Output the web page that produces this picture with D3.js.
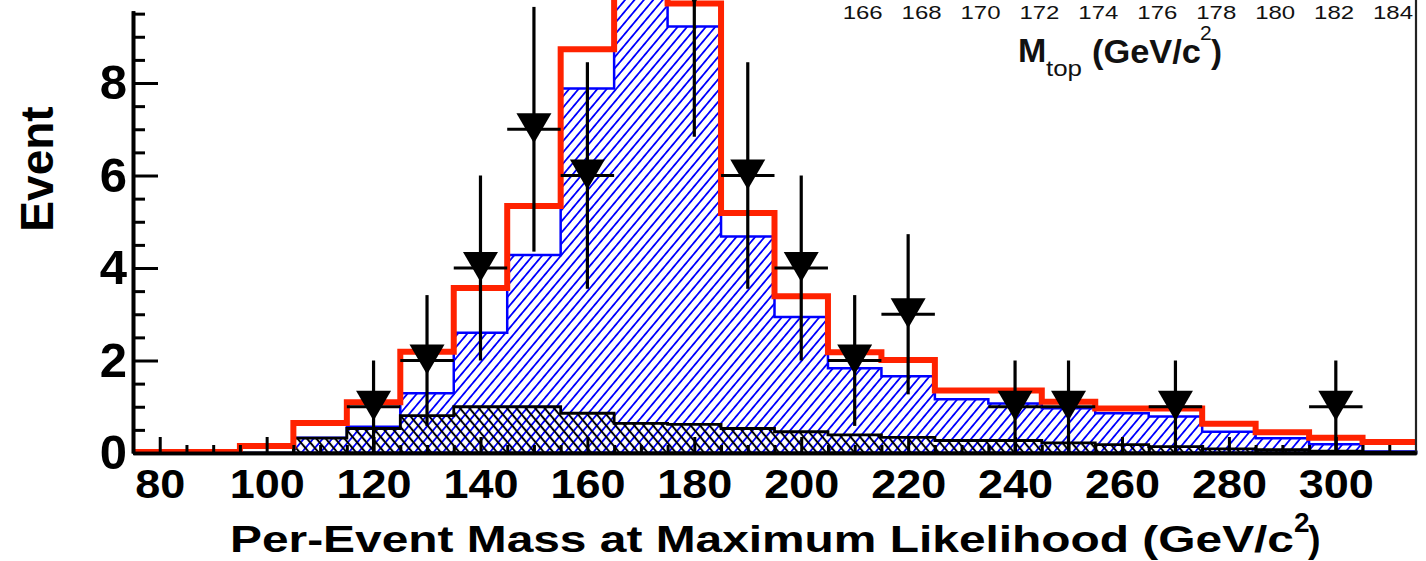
<!DOCTYPE html>
<html>
<head>
<meta charset="utf-8">
<script src="https://cdn.jsdelivr.net/npm/d3@7"></script>
<style>
  html, body { margin: 0; padding: 0; background: #fff; }
  svg { display: block; font-family: 'Liberation Sans', Arial, Helvetica, sans-serif; }
</style>
</head>
<body>
<div id="chart"></div>
<script>
// 10 GeV/c^2 bins, given by their centres
const binCenters    = [80, 90, 100, 110, 120, 130, 140, 150, 160, 170, 180, 190, 200, 210, 220, 230, 240, 250, 260, 270, 280, 290, 300, 310];
const totalExpected = [0.02, 0.02, 0.15, 0.65, 1.10, 2.19, 3.57, 5.34, 8.73, 11.2, 9.72, 5.19, 3.39, 2.18, 2.01, 1.35, 1.35, 1.11, 0.96, 0.96, 0.63, 0.45, 0.33, 0.24];
const signalPlusBkg = [0, 0, 0, 0.33, 0.57, 1.29, 2.60, 4.28, 7.88, 10.5, 9.22, 4.68, 2.94, 1.83, 1.66, 1.16, 1.07, 0.97, 0.86, 0.79, 0.46, 0.32, 0.19, 0.03];
const background    = [0, 0, 0, 0.32, 0.53, 0.81, 1.00, 1.00, 0.86, 0.64, 0.62, 0.53, 0.46, 0.39, 0.34, 0.27, 0.27, 0.22, 0.18, 0.14, 0.09, 0.07, 0.04, 0.02];

// observed events
const dataMass   = [120, 130, 140, 150, 160, 180, 190, 200, 210, 220, 240, 250, 270, 300];
const dataCounts = [1, 2, 4, 7, 6, 10, 6, 4, 2, 3, 1, 1, 1, 1];

const xMajorTicks = [80, 100, 120, 140, 160, 180, 200, 220, 240, 260, 280, 300];
const yMajorTicks = [0, 2, 4, 6, 8];
const yMinorTicks = [0.5, 1, 1.5, 2.5, 3, 3.5, 4.5, 5, 5.5, 6.5, 7, 7.5, 8.5, 9, 9.5];
const insetTicks  = [166, 168, 170, 172, 174, 176, 178, 180, 182, 184];

const binWidth = 10;
const W = 1426, H = 561;

const svg = d3.select('#chart').append('svg')
  .attr('width', W)
  .attr('height', H);

const x = d3.scaleLinear().domain([75, 315]).range([133, 1416]);
const y = d3.scaleLinear().domain([0, 9.795]).range([453, 0]);

// hatch patterns (ROOT 3004 / 3005 look)
const defs = svg.append('defs');
function hatch(id, angle, color, width) {
  defs.append('pattern')
    .attr('id', id)
    .attr('patternUnits', 'userSpaceOnUse')
    .attr('width', 7.2)
    .attr('height', 20)
    .attr('patternTransform', `rotate(${angle})`)
    .append('line')
    .attr('x1', 3.6).attr('y1', -1)
    .attr('x2', 3.6).attr('y2', 21)
    .attr('stroke', color)
    .attr('stroke-width', width);
}
hatch('hatch-blue', 40, '#0000ff', 1.8);
hatch('hatch-black', -40, '#000', 2);

function steps(values) {
  const pts = binCenters.map((c, i) => ({ x: c - binWidth / 2, v: values[i] }));
  pts.push({ x: binCenters[binCenters.length - 1] + binWidth / 2, v: values[values.length - 1] });
  return pts;
}

const area = d3.area()
  .x(d => x(d.x))
  .y0(y(0))
  .y1(d => y(d.v))
  .curve(d3.curveStepAfter);

const line = d3.line()
  .x(d => x(d.x))
  .y(d => y(d.v))
  .curve(d3.curveStepAfter);

// signal + background
svg.append('path')
  .datum(steps(signalPlusBkg))
  .attr('d', area)
  .attr('fill', 'url(#hatch-blue)')
  .attr('stroke', '#0000ff')
  .attr('stroke-width', 2.5);

// background only
svg.append('path')
  .datum(steps(background))
  .attr('d', area)
  .attr('fill', 'url(#hatch-black)')
  .attr('stroke', '#000')
  .attr('stroke-width', 2.8);

// total expectation
svg.append('path')
  .datum(steps(totalExpected))
  .attr('d', line)
  .attr('fill', 'none')
  .attr('stroke', '#ff2200')
  .attr('stroke-width', 6);

// frame right edge
svg.append('line')
  .attr('x1', x(315)).attr('x2', x(315))
  .attr('y1', 0).attr('y2', y(0))
  .attr('stroke', '#222')
  .attr('stroke-width', 2.2);

// x axis
const xMinorTicks = d3.range(85, 315, 5).filter(v => v % 20 !== 0);
const gxMinor = svg.append('g')
  .attr('transform', `translate(0,${y(0)})`)
  .call(d3.axisBottom(x).tickValues(xMinorTicks).tickSizeInner(-8).tickSizeOuter(0).tickFormat(''));
const gx = svg.append('g')
  .attr('transform', `translate(0,${y(0)})`)
  .call(d3.axisBottom(x).tickValues(xMajorTicks).tickSizeInner(-16).tickSizeOuter(0).tickPadding(17));
gx.selectAll('text')
  .attr('fill', '#000')
  .attr('font-size', 40)
  .attr('font-weight', 'bold')
  .attr('font-family', "'Liberation Sans', Arial, sans-serif")
  .attr('textLength', d => String(d).length * 25)
  .attr('lengthAdjust', 'spacingAndGlyphs');

// y axis
const yAxisTop = 9.56;
const yAxisScale = y.copy().domain([0, yAxisTop]).range([y(0), y(yAxisTop)]);
const gyMinor = svg.append('g')
  .attr('transform', `translate(${x(75)},0)`)
  .call(d3.axisLeft(yAxisScale).tickValues(yMinorTicks).tickSizeInner(-12).tickSizeOuter(0).tickFormat(''));
const gy = svg.append('g')
  .attr('transform', `translate(${x(75)},0)`)
  .call(d3.axisLeft(yAxisScale).tickValues(yMajorTicks).tickSizeInner(-25).tickSizeOuter(0).tickPadding(6));
gy.selectAll('text')
  .attr('fill', '#000')
  .attr('font-size', 49)
  .attr('font-weight', 'bold')
  .attr('font-family', "'Liberation Sans', Arial, sans-serif");

[gx, gxMinor, gy, gyMinor].forEach(g => {
  g.selectAll('.tick line').attr('stroke', '#000').attr('stroke-width', 3);
  g.select('.domain').attr('stroke', '#000').attr('stroke-width', 3.6);
});

// data points: error bars + inverted triangles
const pts = dataMass.map((m, i) => ({ m, n: dataCounts[i] }));
const gData = svg.append('g');
gData.selectAll('line.ey').data(pts).join('line')
  .attr('class', 'ey')
  .attr('x1', d => x(d.m)).attr('x2', d => x(d.m))
  .attr('y1', d => y(d.n - Math.sqrt(d.n)))
  .attr('y2', d => y(d.n + Math.sqrt(d.n)))
  .attr('stroke', '#000').attr('stroke-width', 3.2);
gData.selectAll('line.ex').data(pts).join('line')
  .attr('class', 'ex')
  .attr('x1', d => x(d.m - binWidth / 2)).attr('x2', d => x(d.m + binWidth / 2))
  .attr('y1', d => y(d.n)).attr('y2', d => y(d.n))
  .attr('stroke', '#000').attr('stroke-width', 3.2);
gData.selectAll('path.marker').data(pts).join('path')
  .attr('class', 'marker')
  .attr('transform', d => `translate(${x(d.m)},${y(d.n)})`)
  .attr('d', 'M-17.5,-16L17.5,-16L0,14Z')
  .attr('fill', '#000');

// axis titles
svg.append('text')
  .attr('transform', 'translate(53,169) rotate(-90)')
  .attr('text-anchor', 'middle')
  .attr('font-size', 46)
  .attr('font-weight', 'bold')
  .text('Event');

const xTitle = svg.append('g').attr('font-weight', 'bold');
xTitle.append('text')
  .attr('x', 230).attr('y', 552)
  .attr('font-size', 37.7)
  .attr('textLength', 1064)
  .attr('lengthAdjust', 'spacingAndGlyphs')
  .text('Per-Event Mass at Maximum Likelihood (GeV/c');
xTitle.append('text')
  .attr('x', 1294).attr('y', 532)
  .attr('font-size', 28)
  .text('2');
xTitle.append('text')
  .attr('x', 1308).attr('y', 552)
  .attr('font-size', 37.7)
  .text(')');

// inset axis labels (the inset itself is cut off above)
const xi = d3.scaleLinear().domain([166, 184]).range([862.7, 1393]);
svg.append('g').selectAll('text').data(insetTicks).join('text')
  .attr('x', d => xi(d))
  .attr('y', 18.5)
  .attr('text-anchor', 'middle')
  .attr('font-size', 19)
  .attr('fill', '#111')
  .attr('textLength', 40)
  .attr('lengthAdjust', 'spacingAndGlyphs')
  .text(d => d);

const insetTitle = svg.append('g').attr('fill', '#111');
insetTitle.append('text').attr('x', 1018).attr('y', 62).attr('font-size', 34)
  .attr('font-weight', 'bold').text('M');
insetTitle.append('text').attr('x', 1046).attr('y', 76).attr('font-size', 22)
  .attr('textLength', 36).attr('lengthAdjust', 'spacingAndGlyphs').text('top');
insetTitle.append('text').attr('x', 1092).attr('y', 63).attr('font-size', 33)
  .attr('font-weight', 'bold')
  .attr('textLength', 109).attr('lengthAdjust', 'spacingAndGlyphs').text('(GeV/c');
insetTitle.append('text').attr('x', 1200).attr('y', 40).attr('font-size', 21).text('2');
insetTitle.append('text').attr('x', 1211).attr('y', 63).attr('font-size', 33)
  .attr('font-weight', 'bold').text(')');
</script>
</body>
</html>
